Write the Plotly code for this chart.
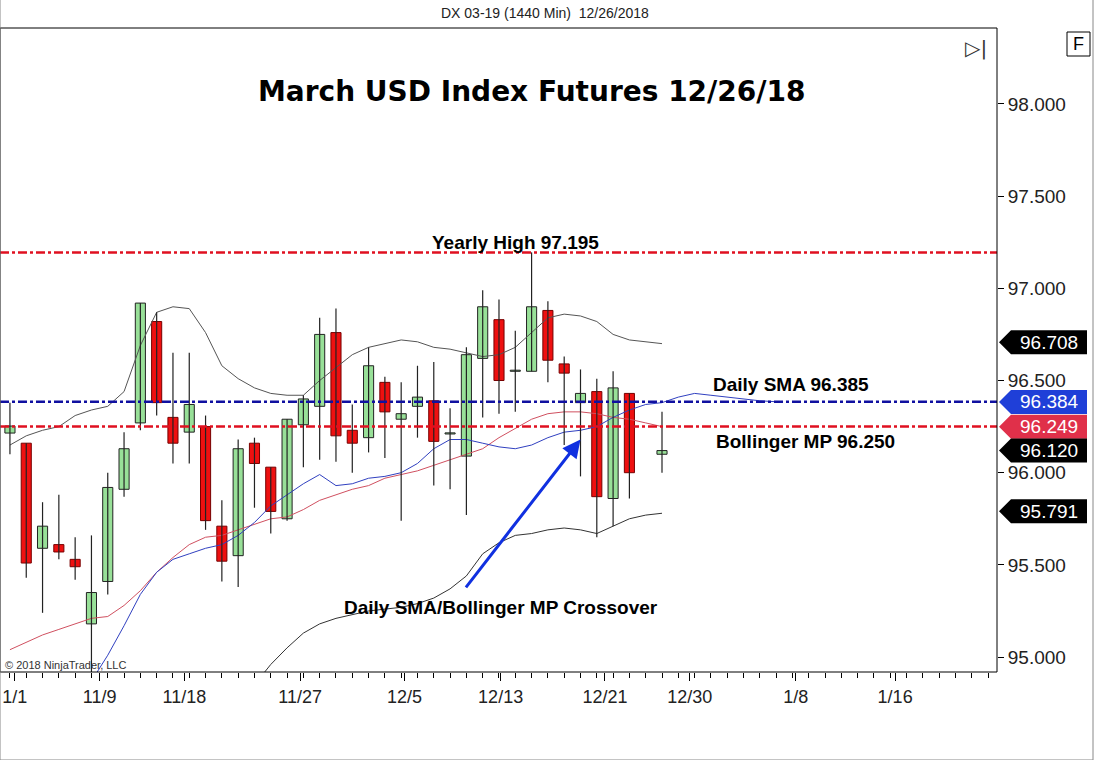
import plotly.graph_objects as go

# candle x positions (trading-day index; 39 = holiday gap)
xs = list(range(39)) + [40]
opens = [96.215,96.16,95.59,95.61,95.53,95.18,95.41,95.91,96.27,96.82,96.30,96.22,96.25,95.71,95.55,96.16,96.03,95.75,96.26,96.36,
         96.76,96.23,96.19,96.49,96.29,96.36,96.39,96.21,96.09,96.62,96.83,96.55,96.55,96.88,96.59,96.38,96.44,95.86,96.43,96.10]
highs = [96.38,96.16,95.84,95.88,95.65,95.66,96.00,96.22,96.92,96.87,96.65,96.65,96.31,95.85,96.18,96.19,96.03,96.29,96.42,96.84,
         96.89,96.37,96.68,96.52,96.49,96.58,96.60,96.35,96.68,96.99,96.94,96.77,97.195,96.93,96.63,96.56,96.51,96.55,96.43,96.33]
lows = [96.10,95.43,95.24,95.53,95.42,94.87,95.34,95.87,96.23,96.31,96.05,96.05,95.69,95.41,95.38,95.81,95.67,95.74,96.03,96.07,
        96.06,96.00,96.11,96.08,95.74,96.19,95.93,95.91,95.77,96.30,96.32,96.33,96.55,96.49,96.15,95.98,95.65,95.71,95.86,96.00]
closes = [96.253,95.51,95.71,95.57,95.49,95.35,95.92,96.13,96.92,96.38,96.16,96.37,95.74,95.52,96.13,96.05,95.79,96.29,96.40,96.75,
          96.20,96.16,96.58,96.33,96.32,96.41,96.17,96.21,96.64,96.90,96.50,96.55,96.90,96.61,96.54,96.43,95.87,96.46,96.00,96.12]

upper = [96.15,96.20,96.23,96.25,96.31,96.34,96.36,96.44,96.69,96.87,96.90,96.89,96.76,96.58,96.51,96.46,96.43,96.42,96.42,96.50,
         96.57,96.64,96.68,96.70,96.72,96.71,96.68,96.67,96.65,96.63,96.64,96.68,96.76,96.84,96.86,96.85,96.82,96.75,96.72,96.71,96.70]
lower_x = list(range(14, 41))
lower = [94.75,94.85,94.96,95.05,95.13,95.18,95.21,95.23,95.25,95.26,95.27,95.29,95.32,95.37,95.44,95.56,95.62,95.66,95.67,95.69,
         95.70,95.69,95.67,95.71,95.75,95.77,95.78]
sma_x = list(range(5, 48))
sma = [94.87,95.01,95.17,95.34,95.46,95.53,95.56,95.59,95.61,95.66,95.73,95.82,95.88,95.94,95.99,95.93,95.94,95.97,95.98,96.00,
       96.05,96.13,96.18,96.18,96.16,96.14,96.13,96.15,96.19,96.22,96.23,96.25,96.30,96.34,96.37,96.38,96.41,96.43,96.42,96.41,
       96.40,96.39,96.385]
mp = [95.04,95.08,95.12,95.15,95.18,95.21,95.22,95.28,95.36,95.46,95.54,95.61,95.65,95.66,95.69,95.72,95.75,95.76,95.80,95.85,
      95.88,95.91,95.93,95.97,95.99,96.01,96.04,96.07,96.10,96.13,96.19,96.24,96.29,96.32,96.33,96.33,96.32,96.30,96.29,96.27,96.25]

tick_pos = [0.3, 5.5, 10.7, 17.8, 24.2, 30.1, 36.5, 41.7, 48.2, 54.3]
tick_text = ["1/1", "11/9", "11/18", "11/27", "12/5", "12/13", "12/21", "12/30", "1/8", "1/16"]
ytick_vals = [95.0, 95.5, 96.0, 96.5, 97.0, 97.5, 98.0]

yearly_high = 97.195
sma_level = 96.385
mp_level = 96.250
tags = [(96.708, "black"), (96.384, "#1f3fd8"), (96.249, "#e0304a"), (96.120, "black"), (95.791, "black")]

FONT = "Liberation Sans, Arial, sans-serif"
fig = go.Figure()
fig.add_trace(go.Scatter(x=list(range(41)), y=upper, mode="lines", line=dict(color="#555", width=1), hoverinfo="skip"))
fig.add_trace(go.Scatter(x=lower_x, y=lower, mode="lines", line=dict(color="#333", width=1), hoverinfo="skip"))
fig.add_trace(go.Scatter(x=list(range(41)), y=mp, mode="lines", line=dict(color="#d05060", width=1), hoverinfo="skip"))
fig.add_trace(go.Scatter(x=sma_x, y=sma, mode="lines", line=dict(color="#3040c0", width=1), hoverinfo="skip"))
for lvl, col in [(yearly_high, "#e01020"), (mp_level, "#e01020"), (sma_level, "#1010a0")]:
    fig.add_hline(y=lvl, line=dict(color=col, width=2.5, dash="dashdot"))

# wicks
wx, wy = [], []
for x, h, l in zip(xs, highs, lows):
    wx += [x, x, None]
    wy += [l, h, None]
fig.add_trace(go.Scatter(x=wx, y=wy, mode="lines", line=dict(color="#222", width=1.2), hoverinfo="skip"))
# bodies
for up in (True, False):
    bx, bb, bh = [], [], []
    for x, o, c in zip(xs, opens, closes):
        if (c >= o) == up:
            bx.append(x)
            bb.append(min(o, c))
            bh.append(max(abs(c - o), 0.006))
    fig.add_trace(go.Bar(x=bx, y=bh, base=bb, width=0.62,
                         marker=dict(color="#98e098" if up else "#ee1010",
                                     line=dict(color="#222" if up else "#700", width=1)), hoverinfo="skip"))

for val, col in tags:
    fig.add_shape(type="path", xref="paper", yref="y", xsizemode="pixel", ysizemode="pixel", xanchor=1.0, yanchor=val,
                  path="M 2 0 L 14 12 L 90 12 L 90 -12 L 14 -12 Z", fillcolor=col, line=dict(width=0), layer="above")
    fig.add_annotation(xref="paper", yref="y", x=1.0, y=val, xshift=52, text=f"{val:.3f}", showarrow=False,
                       font=dict(color="white", size=19, family=FONT), xanchor="center", yanchor="middle")

fig.add_shape(type="rect", xref="paper", yref="paper", x0=0, x1=1, y0=0, y1=1, line=dict(color="black", width=1))
fig.add_shape(type="rect", xref="paper", yref="paper", x0=0, x1=1093/997, y0=-88/644, y1=732/644, line=dict(color="#888", width=1))
fig.add_shape(type="rect", xref="paper", yref="paper", x0=1067/997, x1=1090/997, y0=(672-56)/644, y1=(672-32)/644,
              line=dict(color="black", width=1))


def pann(px, py, text, size, family=FONT, color="black", xa="center"):
    fig.add_annotation(xref="paper", yref="paper", x=px / 997, y=(672 - py) / 644, text=text, showarrow=False,
                       xanchor=xa, yanchor="middle", font=dict(size=size, family=family, color=color))


pann(545, 13, "DX 03-19 (1440 Min)  12/26/2018", 14, color="#222")
pann(531, 91, "<b>March USD Index Futures 12/26/18</b>", 28, family="DejaVu Sans")
pann(1078, 44, "F", 18)
pann(976, 48, "▷|", 20, family="DejaVu Sans", color="#333")
pann(3, 665, "© 2018 NinjaTrader, LLC", 11, color="#333", xa="left")

ann = dict(showarrow=False, font=dict(size=19, family=FONT, color="black"))
fig.add_annotation(x=31.0, y=97.25, text="<b>Yearly High 97.195</b>", **ann)
fig.add_annotation(x=47.9, y=96.48, text="<b>Daily SMA 96.385</b>", **ann)
fig.add_annotation(x=48.8, y=96.17, text="<b>Bollinger MP 96.250</b>", **ann)
fig.add_annotation(x=30.1, y=95.27, text="<b>Daily SMA/Bollinger MP Crossover</b>", **ann)
fig.add_annotation(x=35.0, y=96.18, ax=27.9, ay=95.37, axref="x", ayref="y", text="", showarrow=True,
                   arrowhead=2, arrowsize=1.2, arrowwidth=3, arrowcolor="#1030e0")

fig.update_layout(width=1094, height=760, margin=dict(l=0, r=97, t=28, b=88, autoexpand=False),
                  plot_bgcolor="white", paper_bgcolor="white", barmode="overlay",
                  showlegend=False, hovermode=False,
                  xaxis=dict(range=[-0.61, 60.55], tickvals=tick_pos, ticktext=tick_text, ticks="outside", ticklen=8,
                             tickcolor="black", showgrid=False, zeroline=False, automargin=False,
                             tickfont=dict(size=18, family=FONT, color="#222"),
                             minor=dict(dtick=1, tick0=0, ticks="outside", ticklen=5, tickcolor="black")),
                  yaxis=dict(range=[94.919, 98.412], side="right", tickvals=ytick_vals, tickformat=".3f", ticks="outside",
                             ticklen=6, tickcolor="black", showgrid=False, zeroline=False, automargin=False,
                             tickfont=dict(size=19, family=FONT, color="#222")))
fig.write_html("out.html", config={"displayModeBar": False},
               post_script="document.body.style.margin='0';document.body.style.overflow='hidden';")
